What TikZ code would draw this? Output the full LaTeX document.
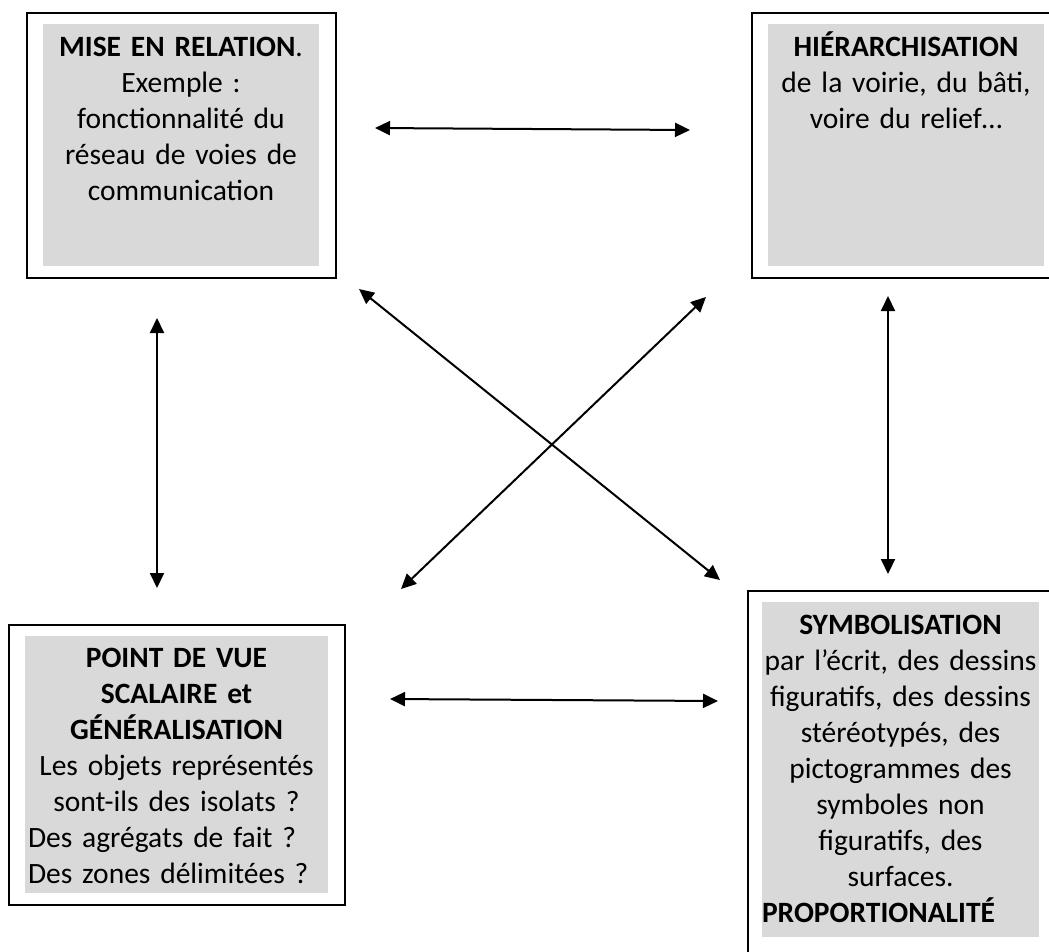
\documentclass[tikz,border=0pt]{standalone}
\usepackage{fontspec}
\setmainfont{Carlito}
\usetikzlibrary{arrows.meta}
\definecolor{boxgray}{RGB}{217,217,217}
\newcommand{\flushl}[1]{\makebox[\linewidth][l]{#1}}

\begin{document}
\begin{tikzpicture}[x=1pt, y=-1pt,
    frame/.style={rectangle, draw, line width=1.6pt, fill=white, inner sep=0pt, anchor=north west},
    shade/.style={rectangle, fill=boxgray, inner sep=0pt, anchor=north west},
    txt/.style={anchor=base, align=center, inner sep=0pt, font=\fontsize{29.5}{#1}\selectfont},
    link/.style={{Triangle[length=15pt,width=14pt]}-{Triangle[length=15pt,width=14pt]}, line width=2pt}
  ]
  \clip (0,0) rectangle (1049,951);
  \useasboundingbox (0,0) rectangle (1049,951);

  % cadres
  \node[frame, minimum width=309pt, minimum height=265pt] (relF) at (26,12) {};
  \node[shade, minimum width=276pt, minimum height=242pt] (relS) at (43,24) {};
  \node[frame, minimum width=320pt, minimum height=265pt] (hieF) at (751,12) {};
  \node[shade, minimum width=276pt, minimum height=242pt] (hieS) at (768,24) {};
  \node[frame, minimum width=336pt, minimum height=280pt] (ptvF) at (8,624) {};
  \node[shade, minimum width=303pt, minimum height=257pt] (ptvS) at (25,636) {};
  \node[frame, minimum width=330pt, minimum height=380pt] (symF) at (747,590) {};
  \node[shade, minimum width=277pt, minimum height=335pt] (symS) at (762,602) {};

  % textes
  \node[txt=36, text width=276pt] (relT) at (181,56)
    {\textbf{MISE EN RELATION}.\\ Exemple :\\ fonctionnalité du\\ réseau de voies de\\ communication};
  \node[txt=36, text width=276pt] (hieT) at (906,56)
    {\textbf{HIÉRARCHISATION}\\ de la voirie, du bâti,\\ voire du relief…};
  \node[txt=36, text width=297pt] (ptvT) at (176.5,667)
    {\textbf{POINT DE VUE}\\ \textbf{SCALAIRE et}\\ \textbf{GÉNÉRALISATION}\\ Les objets représentés\\ sont-ils des isolats ?\\
     \flushl{Des agrégats de fait ?}\\ \flushl{Des zones délimitées ?}};
  \node[txt=36, text width=277pt] (symT) at (900.5,634)
    {\textbf{SYMBOLISATION}\\ par l’écrit, des dessins\\ figuratifs, des dessins\\ stéréotypés, des\\ pictogrammes des\\
     symboles non\\ figuratifs, des\\ surfaces.\\ \flushl{\textbf{PROPORTIONALITÉ}}};

  % extremites des fleches
  \coordinate (topL) at (375,128);
  \coordinate (topR) at (690,130);
  \coordinate (botL) at (390,699);
  \coordinate (botR) at (718,701);
  \coordinate (lftU) at (157,318);
  \coordinate (lftD) at (157,588);
  \coordinate (rgtU) at (888,296);
  \coordinate (rgtD) at (888,574);
  \coordinate (dgAU) at (359,289);
  \coordinate (dgAD) at (720,580);
  \coordinate (dgBD) at (401,589);
  \coordinate (dgBU) at (706,297);

  % fleches
  \draw[link] (topL) -- (topR);
  \draw[link] (botL) -- (botR);
  \draw[link] (lftU) -- (lftD);
  \draw[link] (rgtU) -- (rgtD);
  \draw[link] (dgAU) -- (dgAD);
  \draw[link] (dgBD) -- (dgBU);
\end{tikzpicture}
\end{document}
